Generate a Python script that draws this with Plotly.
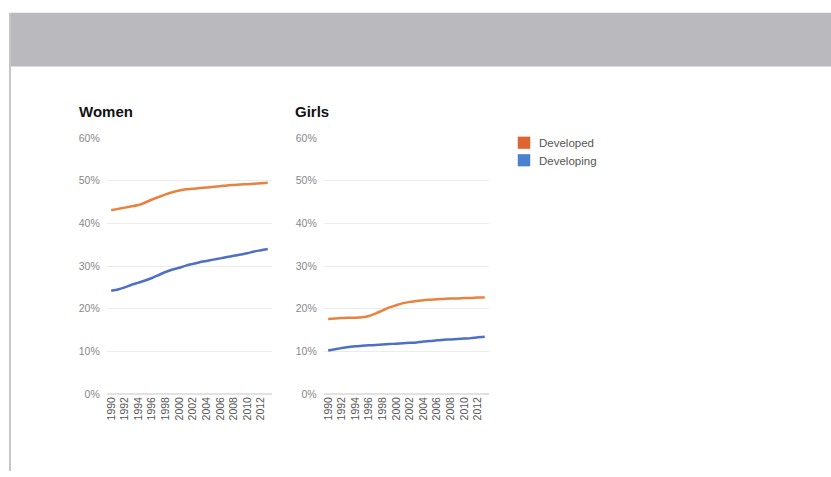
import plotly.graph_objects as go

years = list(range(1990, 2014))
women_developed = [43.1, 43.4, 43.7, 44.0, 44.3, 44.9, 45.6, 46.2, 46.8, 47.3, 47.7, 48.0,
                   48.1, 48.3, 48.4, 48.6, 48.7, 48.9, 49.0, 49.1, 49.2, 49.3, 49.4, 49.5]
women_developing = [24.2, 24.5, 25.0, 25.6, 26.1, 26.6, 27.2, 27.9, 28.6, 29.2, 29.6, 30.1,
                    30.5, 30.9, 31.2, 31.5, 31.8, 32.1, 32.4, 32.7, 33.0, 33.4, 33.7, 34.0]
girls_developed = [17.6, 17.7, 17.8, 17.9, 17.9, 18.0, 18.3, 18.9, 19.6, 20.3, 20.8, 21.3,
                   21.6, 21.8, 22.0, 22.1, 22.2, 22.3, 22.4, 22.4, 22.5, 22.5, 22.6, 22.6]
girls_developing = [10.2, 10.5, 10.8, 11.0, 11.2, 11.3, 11.4, 11.5, 11.6, 11.7, 11.8, 11.9,
                    12.0, 12.1, 12.3, 12.4, 12.6, 12.7, 12.8, 12.9, 13.0, 13.1, 13.3, 13.4]
series_names = ["Developed", "Developing"]
panel_titles = ["Women", "Girls"]
y_ticks = [0, 10, 20, 30, 40, 50, 60]
y_tick_labels = ["0%", "10%", "20%", "30%", "40%", "50%", "60%"]
x_ticks = list(range(1990, 2013, 2))

W, H = 831, 477
ORANGE = "#e8833f"
BLUE = "#4d70c6"
ORANGE_SQ = "#de6530"
BLUE_SQ = "#4a80cf"
FONT = "Liberation Sans, Arial, Helvetica"

fig = go.Figure()
line_style = dict(width=2.5, shape="spline", smoothing=0.6)
fig.add_trace(go.Scatter(x=years, y=women_developed, mode="lines", line=dict(color=ORANGE, **line_style), xaxis="x", yaxis="y", name=series_names[0], hoverinfo="skip"))
fig.add_trace(go.Scatter(x=years, y=women_developing, mode="lines", line=dict(color=BLUE, **line_style), xaxis="x", yaxis="y", name=series_names[1], hoverinfo="skip"))
fig.add_trace(go.Scatter(x=years, y=girls_developed, mode="lines", line=dict(color=ORANGE, **line_style), xaxis="x2", yaxis="y2", name=series_names[0], hoverinfo="skip"))
fig.add_trace(go.Scatter(x=years, y=girls_developing, mode="lines", line=dict(color=BLUE, **line_style), xaxis="x2", yaxis="y2", name=series_names[1], hoverinfo="skip"))

def px(x):
    return x / W

def py(y):
    return 1 - y / H

xrange_ = [1989.35, 2013.6]
xaxis_common = dict(range=xrange_, tickmode="array", tickvals=x_ticks, ticktext=[str(v) for v in x_ticks],
                    tickangle=-90, tickfont=dict(family=FONT, size=10.5, color="#555"),
                    showgrid=False, zeroline=False, showline=False, ticks="", fixedrange=True)
yaxis_common = dict(range=[0, 60], tickmode="array", tickvals=y_ticks, ticktext=y_tick_labels,
                    tickfont=dict(family=FONT, size=10.5, color="#888"),
                    showgrid=True, gridcolor="#ececec", gridwidth=1, zeroline=True, zerolinecolor="#e2e2e2",
                    showline=False, ticks="", ticklabelstandoff=6, fixedrange=True)

bottom = py(398)
top = py(135.5)
fig.update_layout(
    width=W, height=H,
    margin=dict(l=0, r=0, t=0, b=0),
    paper_bgcolor="white", plot_bgcolor="white",
    showlegend=False,
    xaxis=dict(domain=[px(105), px(270.5)], anchor="y", **xaxis_common),
    yaxis=dict(domain=[bottom, top], anchor="x", **yaxis_common),
    xaxis2=dict(domain=[px(322.5), px(488)], anchor="y2", **xaxis_common),
    yaxis2=dict(domain=[bottom, top], anchor="x2", **yaxis_common),
    shapes=[
        dict(type="rect", xref="paper", yref="paper", x0=px(9), x1=1, y0=py(62), y1=py(7), fillcolor="#bab9bd", line=dict(width=0), layer="below"),
        dict(type="rect", xref="paper", yref="paper", x0=px(7), x1=px(9), y0=0, y1=py(7), fillcolor="#c6c6c8", line=dict(width=0), layer="below"),
        dict(type="rect", xref="paper", yref="paper", x0=px(517), x1=px(529.5), y0=py(146.5), y1=py(134), fillcolor=ORANGE_SQ, line=dict(width=0)),
        dict(type="rect", xref="paper", yref="paper", x0=px(517), x1=px(529.5), y0=py(164.5), y1=py(152), fillcolor=BLUE_SQ, line=dict(width=0)),
    ],
    annotations=[
        dict(text="<b>" + panel_titles[0] + "</b>", xref="paper", yref="paper", x=px(75.5), y=py(108), xanchor="left", yanchor="middle", showarrow=False, font=dict(family=FONT, size=15, color="#111")),
        dict(text="<b>" + panel_titles[1] + "</b>", xref="paper", yref="paper", x=px(292), y=py(108), xanchor="left", yanchor="middle", showarrow=False, font=dict(family=FONT, size=15, color="#111")),
        dict(text=series_names[0], xref="paper", yref="paper", x=px(536), y=py(140.5), xanchor="left", yanchor="middle", showarrow=False, font=dict(family=FONT, size=11.5, color="#555")),
        dict(text=series_names[1], xref="paper", yref="paper", x=px(536), y=py(158.5), xanchor="left", yanchor="middle", showarrow=False, font=dict(family=FONT, size=11.5, color="#555")),
    ],
)

fig.write_html("out.html")
